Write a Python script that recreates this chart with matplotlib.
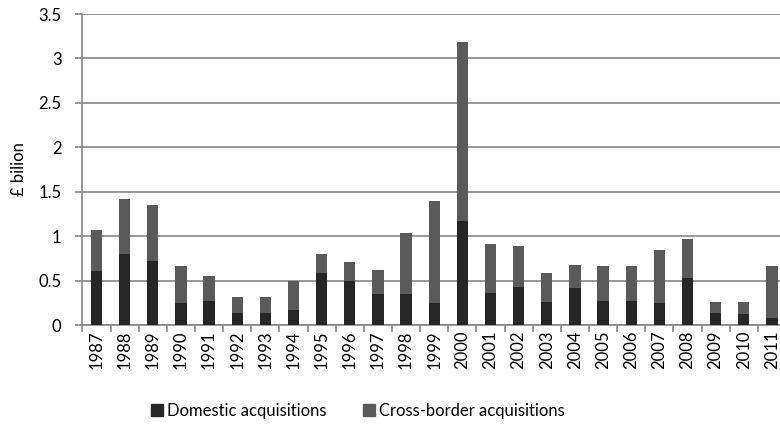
import matplotlib
matplotlib.use("Agg")
import matplotlib.pyplot as plt
import numpy as np
from matplotlib.patches import Patch

plt.rcParams['font.family'] = ['Lato', 'DejaVu Sans']

years = [str(y) for y in range(1987, 2012)]
domestic = [0.61, 0.80, 0.72, 0.25, 0.27, 0.13, 0.13, 0.17, 0.58, 0.49, 0.35, 0.35,
            0.25, 1.17, 0.36, 0.43, 0.26, 0.42, 0.27, 0.27, 0.25, 0.53, 0.14, 0.12, 0.08]
total = [1.07, 1.42, 1.35, 0.66, 0.55, 0.31, 0.31, 0.50, 0.80, 0.71, 0.62, 1.03,
         1.39, 3.18, 0.91, 0.89, 0.58, 0.68, 0.66, 0.66, 0.84, 0.97, 0.26, 0.26, 0.66]
cross_border = [round(t - d, 2) for t, d in zip(total, domestic)]
yticks = [0, 0.5, 1, 1.5, 2, 2.5, 3, 3.5]
ytick_labels = ['0', '0.5', '1', '1.5', '2', '2.5', '3', '3.5']

W, H = 780, 429
fig = plt.figure(figsize=(W/100, H/100), dpi=100)
left, right = 82.4, 786.0
bottom, top = 325.0, 14.0
ax = fig.add_axes([left/W, 1 - bottom/H, (right-left)/W, (bottom-top)/H])

x = np.arange(len(years))
c_dom = '#262626'
c_cb = '#5a5a5a'
ax.bar(x, domestic, width=0.4, color=c_dom, zorder=3)
ax.bar(x, cross_border, width=0.4, bottom=domestic, color=c_cb, zorder=3)

fs = 12
ax.set_xlim(-0.5, len(years) - 0.5)
ax.set_ylim(0, 3.5)
ax.set_yticks(yticks)
ax.set_yticklabels(ytick_labels, fontsize=fs)
ax.yaxis.grid(True, color='#868686', linewidth=1.2, zorder=0)
ax.set_axisbelow(True)

ax.set_xticks(x)
ax.set_xticklabels(years, rotation=90, fontsize=fs)
ax.set_xticks(np.arange(-0.5, len(years), 1), minor=True)
ax.tick_params(axis='x', which='major', length=0, pad=4)
ax.tick_params(axis='x', which='minor', length=5, color='#868686', width=1.2)
ax.tick_params(axis='y', length=5, color='#868686', width=1.2, pad=10)

for s in ['top', 'right']:
    ax.spines[s].set_visible(False)
for s in ['left', 'bottom']:
    ax.spines[s].set_color('#868686')
    ax.spines[s].set_linewidth(1.2)

ax.set_ylabel('£ bilion', fontsize=fs, labelpad=8)

handles = [Patch(color=c_dom, label='Domestic acquisitions'),
           Patch(color=c_cb, label='Cross-border acquisitions')]
fig.legend(handles=handles, loc='center', bbox_to_anchor=(358/W, 1 - 411/H), ncol=2,
           frameon=False, fontsize=fs, handlelength=0.7, handleheight=0.7,
           handletextpad=0.25, columnspacing=2.2)

fig.savefig('out.png', dpi=100)
